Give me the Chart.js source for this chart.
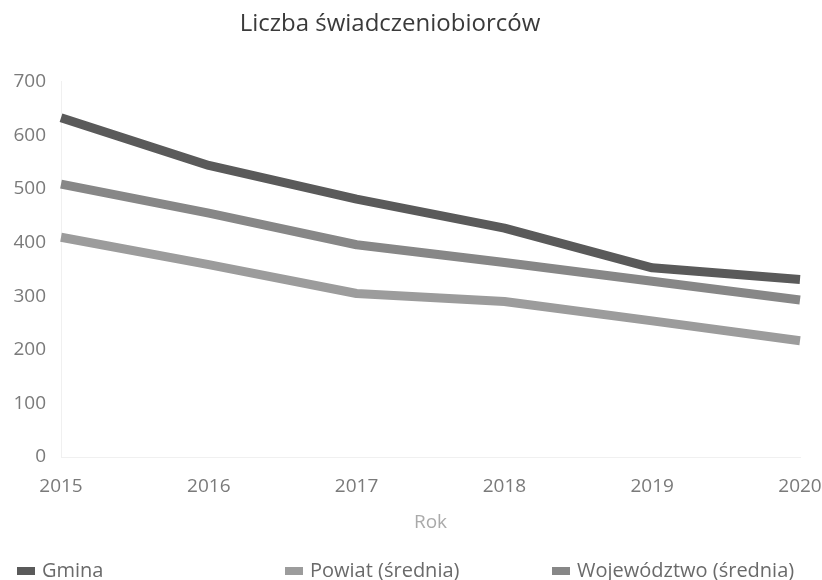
<!DOCTYPE html>
<html>
<head>
<meta charset="utf-8">
<script src="https://cdn.jsdelivr.net/npm/chart.js@4.4.1/dist/chart.umd.min.js"></script>
<style>
  html, body { margin: 0; padding: 0; background: #fff; }
  #wrap { width: 822px; height: 580px; }
</style>
</head>
<body>
<div id="wrap"><canvas id="c" width="822" height="580"></canvas></div>
<script>
const years = ['2015', '2016', '2017', '2018', '2019', '2020']
const gmina = [633, 544, 481, 427, 353, 331]
const wojewodztwo = [509, 455, 396, 363, 328, 293]
const powiat = [410, 359, 305, 290, 254, 217]
const yTicks = [0, 100, 200, 300, 400, 500, 600, 700]

const FONT = "'Open Sans', sans-serif"

// legend laid out in three fixed columns, like the original
const columnLegend = {
  id: 'columnLegend',
  afterLayout(chart) {
    // title in the original sits a bit left of the centre
    chart.titleBlock.right -= 42
  },
  afterDraw(chart) {
    const ctx = chart.ctx
    const cols = [17, 285, 552]
    const y = 571
    ctx.save()
    ctx.font = '20px ' + FONT
    ctx.textBaseline = 'middle'
    // legend order differs from draw order
    const order = [0, 2, 1]
    order.forEach((di, i) => {
      const ds = chart.data.datasets[di]
      ctx.fillStyle = ds.borderColor
      ctx.fillRect(cols[i], y - 4, 18, 8)
      ctx.fillStyle = '#6a6a6a'
      ctx.fillText(ds.label, cols[i] + 25, y)
    })
    ctx.restore()
  }
}

new Chart(document.getElementById('c'), {
  type: 'line',
  data: {
    labels: years,
    datasets: [
      { label: 'Gmina', data: gmina, borderColor: '#5a5a5a' },
      { label: 'Województwo (średnia)', data: wojewodztwo, borderColor: '#878787' },
      { label: 'Powiat (średnia)', data: powiat, borderColor: '#9c9c9c' }
    ].map(d => Object.assign(d, {
      borderWidth: 9,
      pointRadius: 0,
      tension: 0,
      fill: false,
      borderJoinStyle: 'round'
    }))
  },
  options: {
    responsive: false,
    animation: false,
    layout: { padding: { left: 0, right: 0, top: 0, bottom: 42 } },
    plugins: {
      legend: { display: false },
      tooltip: { enabled: false },
      title: {
        display: true,
        text: 'Liczba świadczeniobiorców',
        color: '#3a3a3a',
        font: { family: FONT, size: 24, weight: 'normal' },
        padding: { top: 10, bottom: 43 }
      }
    },
    scales: {
      x: {
        offset: false,
        grid: { display: false, drawTicks: false },
        border: { color: '#f0f0f0' },
        ticks: { color: '#7a7a7a', font: { family: FONT, size: 19 }, padding: 18, maxRotation: 0 },
        title: {
          display: true, text: 'Rok', color: '#aaa',
          font: { family: FONT, size: 19 }, padding: { top: 8 }
        },
        afterFit: axis => {
          axis.height = 81
          axis.paddingLeft = 0
          axis.paddingRight = 22
        }
      },
      y: {
        min: 0, max: 700,
        afterBuildTicks: axis => { axis.ticks = yTicks.map(v => ({ value: v })) },
        grid: { display: false, drawTicks: false },
        border: { color: '#f0f0f0' },
        ticks: { color: '#7a7a7a', font: { family: FONT, size: 19 }, padding: 15 },
        afterFit: axis => { axis.width = 61 }
      }
    }
  },
  plugins: [columnLegend]
})
</script>
</body>
</html>
